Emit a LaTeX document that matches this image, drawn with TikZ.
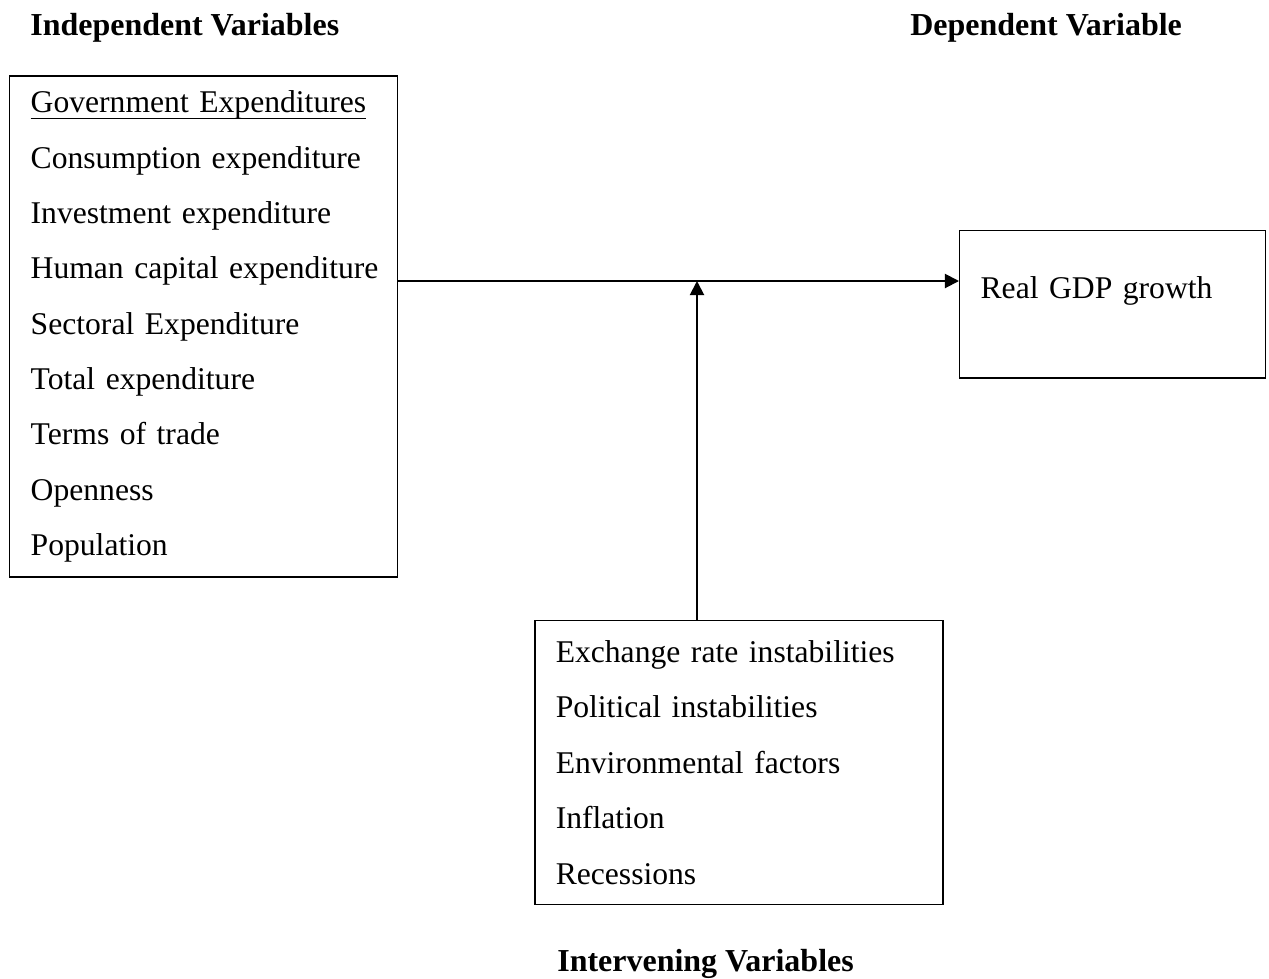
\documentclass[tikz,border=0pt]{standalone}
\usepackage{fontspec}
\setmainfont{Liberation Serif}
\usetikzlibrary{arrows.meta}

\tikzset{
  varbox/.style={draw, line width=0.8pt, align=left, inner xsep=11.9pt, inner ysep=0pt,
    font=\fontsize{18}{31.5}\selectfont},
  vartitle/.style={anchor=base west, inner sep=0pt, font=\fontsize{18.2}{22}\selectfont\bfseries},
  link/.style={line width=1.1pt, -{Triangle[length=8pt,width=8pt]}}
}

\begin{document}
\begin{tikzpicture}[x=0.02cm,y=-0.02cm]
\useasboundingbox (0,0) rectangle (1269,978);

\node[vartitle] (indeptitle) at (30,35) {Independent Variables};
\node[vartitle] (deptitle) at (910,35) {Dependent Variable};
\node[vartitle] (intertitle) at (557,971) {Intervening Variables};

\node[varbox, text width=196.7pt, minimum height=285.2pt] (indep) at (203.5,326.5) {%
  \underline{\raisebox{0pt}[\height][1.8pt]{Government Expenditures}}\\
  Consumption expenditure\\
  Investment expenditure\\
  \mbox{Human capital expenditure}\\
  Sectoral Expenditure\\
  Total expenditure\\
  Terms of trade\\
  Openness\\
  Population};
\node[varbox, anchor=north west, text width=150.2pt, text height=38.5pt, text depth=45.4pt] (gdp) at (959,230) {Real GDP growth};
\node[varbox, text width=208.6pt, minimum height=161.6pt] (inter) at (739,762.5) {%
  Exchange rate instabilities\\
  Political instabilities\\
  Environmental factors\\
  Inflation\\
  Recessions};

\coordinate (meet) at (697,281);
\draw[link] (meet -| indep.east) -- (meet -| gdp.west);
\draw[link] (inter.north -| meet) -- (meet);
\end{tikzpicture}
\end{document}
